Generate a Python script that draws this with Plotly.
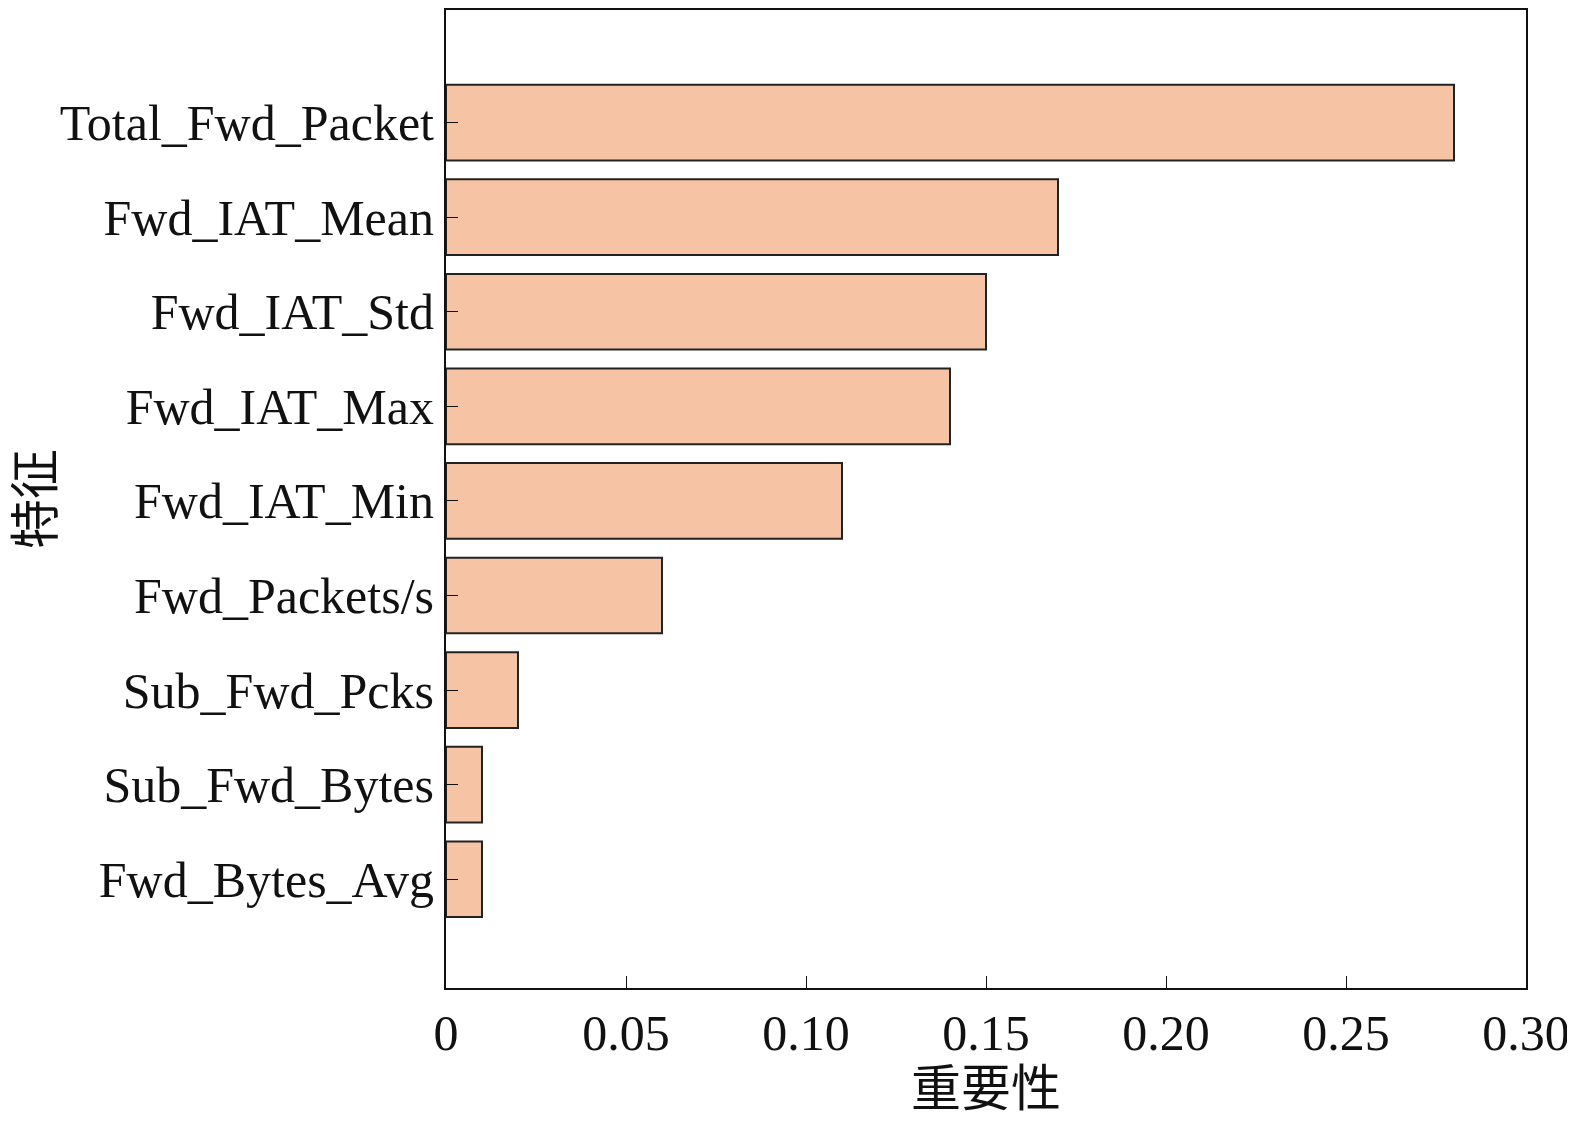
import plotly.graph_objects as go

features = ["Total_Fwd_Packet", "Fwd_IAT_Mean", "Fwd_IAT_Std", "Fwd_IAT_Max",
            "Fwd_IAT_Min", "Fwd_Packets/s", "Sub_Fwd_Pcks", "Sub_Fwd_Bytes", "Fwd_Bytes_Avg"]
importance = [0.28, 0.17, 0.15, 0.14, 0.11, 0.06, 0.02, 0.01, 0.01]
pos = list(range(len(features)))

serif = "Liberation Serif, Times New Roman, Noto Sans CJK SC"

fig = go.Figure(go.Bar(
    x=importance, y=pos, orientation="h", width=0.8,
    marker=dict(color="#f6c4a5", line=dict(color="#222222", width=2)),
))

fig.update_layout(
    width=1575, height=1126, plot_bgcolor="white", paper_bgcolor="white",
    margin=dict(l=438, r=57, t=0, b=146), showlegend=False,
    font=dict(family=serif, size=50, color="#111111"),
)
fig.update_xaxes(
    range=[0, 0.30], tickvals=[0, 0.05, 0.10, 0.15, 0.20, 0.25, 0.30],
    ticktext=["0", "0.05", "0.10", "0.15", "0.20", "0.25", "0.30"],
    ticks="inside", ticklen=12, tickcolor="#111", showline=True, linecolor="#111",
    linewidth=2, mirror=True, showgrid=False, zeroline=False,
    title=dict(text="重要性", font=dict(size=50), standoff=8),
)
fig.update_yaxes(
    range=[9.15, -1.19], tickvals=pos, ticktext=features,
    ticks="inside", ticklen=12, tickcolor="#111", showline=True, linecolor="#111",
    linewidth=2, mirror=True, showgrid=False, zeroline=False,
    title=dict(text="特征", font=dict(size=50), standoff=8),
)

fig.write_html("out.html")
